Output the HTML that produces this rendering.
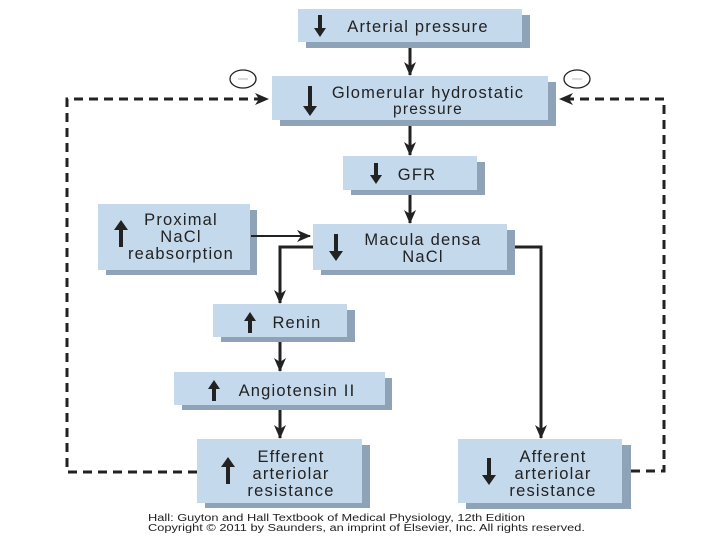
<!DOCTYPE html>
<html><head><style>body{margin:0;background:#fff}svg{display:block}</style></head><body>
<svg width="720" height="540" viewBox="0 0 720 540" xmlns="http://www.w3.org/2000/svg" font-family="Liberation Sans, sans-serif">
<defs>
<marker id="b" markerWidth="14" markerHeight="12" refX="13" refY="6" orient="auto" markerUnits="userSpaceOnUse"><path d="M0,0 L14,6 L0,12 L4,6 Z" fill="#222"/></marker>
</defs>
<g fill="#8fa3b8">
<rect x="306" y="15" width="224" height="33"/>
<rect x="280" y="82" width="276" height="44"/>
<rect x="351" y="162" width="134" height="33"/>
<rect x="106" y="210" width="151" height="65"/>
<rect x="321" y="230" width="194" height="45"/>
<rect x="221" y="310" width="134" height="32"/>
<rect x="182" y="378" width="210" height="32"/>
<rect x="205" y="445" width="165" height="63"/>
<rect x="466" y="445" width="165" height="64"/>
</g>
<g fill="#c5d9ec">
<rect x="298" y="9" width="224" height="33"/>
<rect x="272" y="76" width="276" height="44"/>
<rect x="343" y="156" width="134" height="34"/>
<rect x="98" y="204" width="152" height="66"/>
<rect x="313" y="224" width="194" height="46"/>
<rect x="213" y="304" width="134" height="33"/>
<rect x="174" y="372" width="211" height="33"/>
<rect x="197" y="439" width="165" height="64"/>
<rect x="458" y="439" width="164" height="64"/>
</g>
<g stroke="#222" stroke-width="3" fill="none">
<line x1="410" y1="48" x2="410" y2="75" marker-end="url(#b)"/>
<line x1="410" y1="126" x2="410" y2="155" marker-end="url(#b)"/>
<line x1="410" y1="195" x2="410" y2="223" marker-end="url(#b)"/>
<polyline points="313,247 280,247 280,303" marker-end="url(#b)"/>
<line x1="280" y1="342" x2="280" y2="371" marker-end="url(#b)"/>
<line x1="280" y1="410" x2="280" y2="438" marker-end="url(#b)"/>
<polyline points="515,247 541,247 541,438" marker-end="url(#b)"/>
</g>
<line x1="251" y1="236" x2="310" y2="236" stroke="#222" stroke-width="2" marker-end="url(#b)"/>
<g stroke="#222" stroke-width="3" fill="none" stroke-dasharray="9,6">
<polyline points="197,472 67,472 67,99 268,99" marker-end="url(#b)"/>
<polyline points="631,471 664,471 664,99 560,99" marker-end="url(#b)"/>
</g>
<g stroke="#222" stroke-width="1.3" fill="#fff">
<ellipse cx="243" cy="79" rx="13" ry="9"/>
<ellipse cx="577" cy="79" rx="13" ry="9"/>
</g>
<g stroke="#bbb" stroke-width="1"><line x1="238" y1="79" x2="248" y2="79"/><line x1="572" y1="79" x2="582" y2="79"/></g>
<g fill="#222">
<path d="M318,15 h4 v13 h4 l-6,9 l-6,-9 h4 z"/>
<path d="M308,86 h4 v20 h5 l-7,10 l-7,-10 h5 z"/>
<path d="M374,163 h4 v12 h4 l-6,9 l-6,-9 h4 z"/>
<path d="M119,247 h4 v-17 h5 l-7,-10 l-7,10 h5 z"/>
<path d="M334,234 h4 v17 h5 l-7,10 l-7,-10 h5 z"/>
<path d="M248,333 h4 v-12 h4 l-6,-9 l-6,9 h4 z"/>
<path d="M212,401 h4 v-12 h4 l-6,-9 l-6,9 h4 z"/>
<path d="M226,484 h4 v-17 h5 l-7,-10 l-7,10 h5 z"/>
<path d="M487,458 h4 v17 h5 l-7,10 l-7,-10 h5 z"/>
</g>
<g fill="#222" font-size="16.5" letter-spacing="1.2" text-anchor="middle">
<text x="418" y="32">Arterial pressure</text>
<text x="428" y="98">Glomerular hydrostatic</text>
<text x="428" y="114" font-size="15.5">pressure</text>
<text x="417" y="180">GFR</text>
<text x="181" y="225">Proximal</text>
<text x="181" y="242">NaCl</text>
<text x="181" y="259">reabsorption</text>
<text x="423" y="245">Macula densa</text>
<text x="423" y="262">NaCl</text>
<text x="297" y="328">Renin</text>
<text x="297" y="396">Angiotensin II</text>
<text x="291" y="462">Efferent</text>
<text x="291" y="479">arteriolar</text>
<text x="291" y="496">resistance</text>
<text x="553" y="462">Afferent</text>
<text x="553" y="479">arteriolar</text>
<text x="553" y="496">resistance</text>
</g>
<g fill="#222" font-size="10" font-family="Liberation Sans, sans-serif">
<text x="148" y="521" textLength="377" lengthAdjust="spacingAndGlyphs">Hall: Guyton and Hall Textbook of Medical Physiology, 12th Edition</text>
<text x="148" y="531" textLength="437" lengthAdjust="spacingAndGlyphs">Copyright © 2011 by Saunders, an imprint of Elsevier, Inc. All rights reserved.</text>
</g>
</svg>
</body></html>
